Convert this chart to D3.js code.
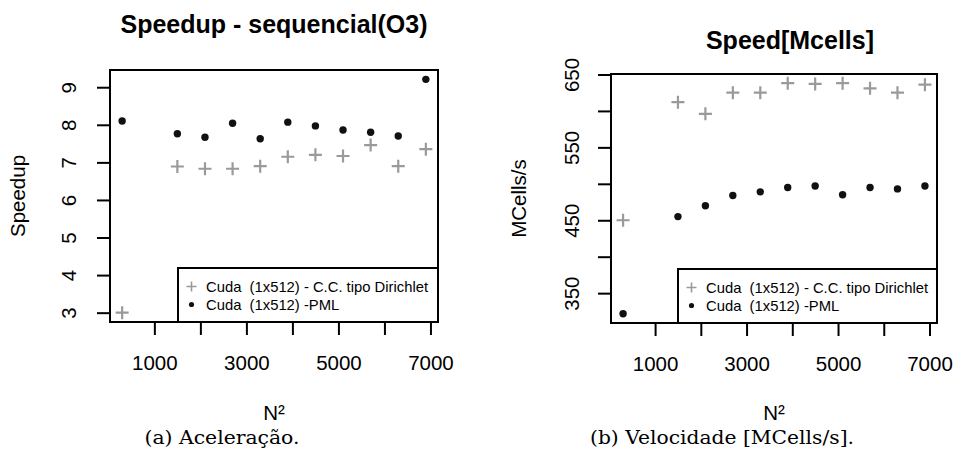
<!DOCTYPE html>
<html>
<head>
<meta charset="utf-8">
<script src="https://cdn.jsdelivr.net/npm/d3@7"></script>
<style>
  html, body { margin: 0; padding: 0; background: #fff; }
  svg { display: block; }
  .pre { white-space: pre; }
</style>
</head>
<body>
<svg id="chart" width="954" height="461"></svg>
<script>
// ---------------- data ----------------
const N2 = [300, 1500, 2100, 2700, 3300, 3900, 4500, 5100, 5700, 6300, 6900];
const speedupDirichlet = [3.00, 6.89, 6.83, 6.83, 6.90, 7.15, 7.20, 7.17, 7.46, 6.90, 7.35];
const speedupPML       = [8.10, 7.76, 7.67, 8.04, 7.63, 8.07, 7.97, 7.86, 7.80, 7.70, 9.21];
const speedDirichlet   = [450, 612, 596, 625, 625, 638, 637, 638, 631, 625, 636];
const speedPML         = [321.7, 455, 470, 484, 489, 495, 497, 485, 495, 493, 497];
const xTicks = [1000, 2000, 3000, 4000, 5000, 6000, 7000];
const xTickLabels = ["1000", "", "3000", "", "5000", "", "7000"];
const yTicksA = [3, 4, 5, 6, 7, 8, 9];
const yTickLabelsA = ["3", "4", "5", "6", "7", "8", "9"];
const yTicksB = [350, 400, 450, 500, 550, 600, 650];
const yTickLabelsB = ["350", "", "450", "", "550", "", "650"];
const legendLabels = ["Cuda  (1x512) - C.C. tipo Dirichlet", "Cuda  (1x512) -PML"];

const SANS = "'Liberation Sans', Arial, Helvetica, sans-serif";
const SERIF = "'DejaVu Serif', 'Liberation Serif', serif";
const GREY = "#9a9a9a";
const DARK = "#111";

const svg = d3.select("#chart");

function pad(ext) { const d = (ext[1] - ext[0]) * 0.04; return [ext[0] - d, ext[1] + d]; }

function panel(cfg) {
  const g = svg.append("g");
  const x = d3.scaleLinear().domain(pad(d3.extent(N2))).range([cfg.left, cfg.right]);
  const yExt = d3.extent(cfg.s1.concat(cfg.s2));
  const y = d3.scaleLinear().domain(pad(yExt)).range([cfg.bottom, cfg.top]);

  // x axis
  const xa = g.append("g").attr("transform", `translate(0,${cfg.bottom})`)
    .call(d3.axisBottom(x).tickValues(xTicks).tickSize(13).tickSizeOuter(0)
      .tickFormat((d, i) => xTickLabels[i]));
  xa.select(".domain").remove();
  xa.selectAll(".tick line").attr("stroke", "#000").attr("stroke-width", 2);
  xa.selectAll(".tick text").attr("y", 48).attr("dy", 0)
    .attr("font-family", SANS).attr("font-size", 20.5).attr("fill", "#000");

  // y axis
  const ya = g.append("g").attr("transform", `translate(${cfg.left},0)`)
    .call(d3.axisLeft(y).tickValues(cfg.yTicks).tickSize(13).tickSizeOuter(0)
      .tickFormat((d, i) => cfg.yLabels[i]));
  ya.select(".domain").remove();
  ya.selectAll(".tick line").attr("stroke", "#000").attr("stroke-width", 2);
  ya.selectAll(".tick text").attr("x", null).attr("dy", 0)
    .attr("transform", `translate(${-cfg.yLabOff},0) rotate(-90)`)
    .attr("text-anchor", "middle")
    .attr("font-family", SANS).attr("font-size", 20.5).attr("fill", "#000");

  // box
  g.append("rect").attr("x", cfg.left).attr("y", cfg.top)
    .attr("width", cfg.right - cfg.left).attr("height", cfg.bottom - cfg.top)
    .attr("fill", "none").attr("stroke", "#000").attr("stroke-width", 2);

  // legend
  const lx0 = cfg.legLeft, ly0 = cfg.legTop;
  g.append("rect").attr("x", lx0).attr("y", ly0)
    .attr("width", cfg.right - lx0).attr("height", cfg.bottom - ly0)
    .attr("fill", "#fff").attr("stroke", "#000").attr("stroke-width", 2);
  const rows = [ly0 + 18.5, ly0 + 36.5];
  const sx = lx0 + 13.5;
  g.append("path")
    .attr("d", `M${sx - 5},${rows[0]}H${sx + 5}M${sx},${rows[0] - 5}V${rows[0] + 5}`)
    .attr("stroke", GREY).attr("stroke-width", 1.6).attr("fill", "none");
  g.append("circle").attr("cx", sx).attr("cy", rows[1]).attr("r", 2.6).attr("fill", DARK);
  legendLabels.forEach((t, i) => {
    g.append("text").attr("class", "pre").attr("xml:space", "preserve")
      .attr("x", lx0 + 28).attr("y", rows[i]).attr("dy", "0.35em")
      .attr("font-family", SANS).attr("font-size", 14.8).attr("fill", "#000").text(t);
  });

  // points: crosses
  const h = 6.5;
  g.append("g").selectAll("path").data(N2).join("path")
    .attr("d", (d, i) => {
      const px = x(d), py = y(cfg.s1[i]);
      return `M${px - h},${py}H${px + h}M${px},${py - h}V${py + h}`;
    })
    .attr("stroke", GREY).attr("stroke-width", 2.2).attr("fill", "none");
  // points: dots
  g.append("g").selectAll("circle").data(N2).join("circle")
    .attr("cx", d => x(d)).attr("cy", (d, i) => y(cfg.s2[i]))
    .attr("r", 3.7).attr("fill", DARK);

  // titles & labels
  g.append("text").attr("x", cfg.titleX).attr("y", cfg.titleY).attr("text-anchor", "middle")
    .attr("font-family", SANS).attr("font-weight", "bold").attr("font-size", 25)
    .attr("fill", "#000").text(cfg.title);
  g.append("text").attr("x", (cfg.left + cfg.right) / 2).attr("y", 420).attr("text-anchor", "middle")
    .attr("font-family", SANS).attr("font-size", 20.5).attr("fill", "#000").text("N²");
  g.append("text")
    .attr("transform", `translate(${cfg.left - 85},${(cfg.top + cfg.bottom) / 2}) rotate(-90)`)
    .attr("text-anchor", "middle")
    .attr("font-family", SANS).attr("font-size", 20.5).attr("fill", "#000").text(cfg.ylab);
  g.append("text").attr("x", cfg.capX).attr("y", 444).attr("text-anchor", "middle")
    .attr("font-family", SERIF).attr("font-size", 18.5).attr("fill", "#000")
    .attr("textLength", cfg.capW).attr("lengthAdjust", "spacingAndGlyphs")
    .text(cfg.caption);
}

panel({
  left: 110, right: 438, top: 70, bottom: 322,
  s1: speedupDirichlet, s2: speedupPML,
  yTicks: yTicksA, yLabels: yTickLabelsA, yLabOff: 34,
  legLeft: 178, legTop: 268,
  title: "Speedup - sequencial(O3)", titleX: 274, titleY: 33,
  ylab: "Speedup", caption: "(a) Aceleração.", capX: 222, capW: 155
});
panel({
  left: 611, right: 937, top: 74, bottom: 323,
  s1: speedDirichlet, s2: speedPML,
  yTicks: yTicksB, yLabels: yTickLabelsB, yLabOff: 32,
  legLeft: 678, legTop: 269,
  title: "Speed[Mcells]", titleX: 790, titleY: 49,
  ylab: "MCells/s", caption: "(b) Velocidade [MCells/s].", capX: 722, capW: 264
});
</script>
</body>
</html>
